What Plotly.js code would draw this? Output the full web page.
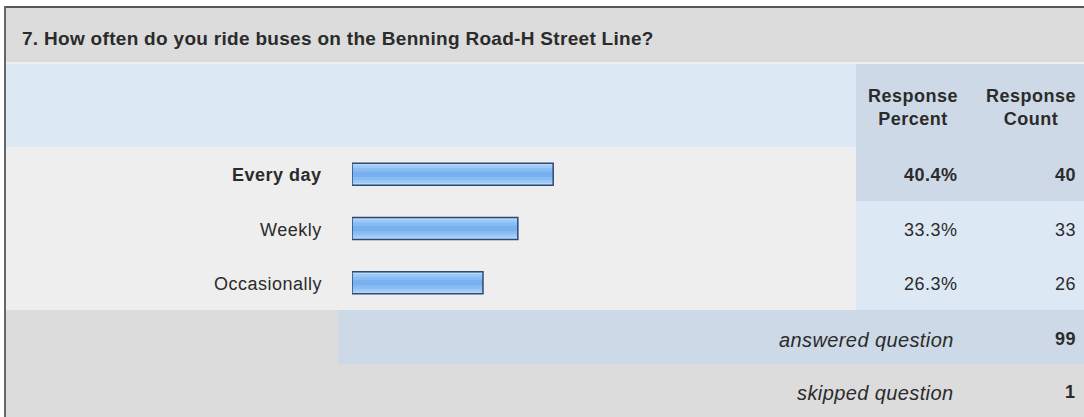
<!DOCTYPE html>
<html>
<head>
<meta charset="utf-8">
<script src="https://cdn.plot.ly/plotly-3.0.1.min.js"></script>
<style>
html,body{margin:0;padding:0;background:#fff;}
#chart{width:1084px;height:417px;}
</style>
</head>
<body>
<div id="chart"></div>
<script>
// ---- data ----
var questionTitle = "7. How often do you ride buses on the Benning Road-H Street Line?";
var categories = ["Every day", "Weekly", "Occasionally"];
var responsePercent = [40.4, 33.3, 26.3];
var responseCount = [40, 33, 26];
var answeredQuestion = 99;
var skippedQuestion = 1;
var headerPercent = ["Response", "Percent"];
var headerCount = ["Response", "Count"];
var answeredLabel = "answered question";
var skippedLabel = "skipped question";

// ---- layout helpers ----
var W = 1084, H = 417;
function px(x){ return x / W; }
function py(y){ return 1 - y / H; }
var FONT = "Liberation Sans, Arial, Helvetica, sans-serif";
var TXT = "#2b2b2b";
function sp(t, ls){ return '<span style="letter-spacing:' + ls + 'px">' + t + '</span>'; }

function rect(x0, y0, x1, y1, color){
  return {type:'rect', xref:'paper', yref:'paper', x0:px(x0), x1:px(x1), y0:py(y1), y1:py(y0),
          fillcolor:color, line:{width:0}, layer:'below'};
}

var shapes = [
  rect(6, 6, W, 8, '#555555'),          // top border
  rect(4, 6, 6, H, '#666666'),          // left border
  rect(6, 8, W, 62, '#dcdcdc'),         // title band
  rect(6, 62, W, 64, '#efefef'),        // separator
  rect(6, 64, 856, 147, '#dde8f5'),     // header left
  rect(856, 64, W, 147, '#cdd9e6'),     // header right
  rect(6, 147, 856, 310, '#eeeeee'),    // body left
  rect(856, 147, W, 201, '#cdd9e6'),    // first row right (highlighted)
  rect(856, 201, W, 310, '#dde8f5'),    // other rows right
  rect(6, 310, 338, 364, '#dcdcdc'),    // answered left
  rect(338, 310, W, 364, '#cdd9e6'),    // answered right
  rect(6, 364, W, H, '#dcdcdc')         // skipped
];

var maxIdx = responsePercent.indexOf(Math.max.apply(null, responsePercent));

function ann(x, y, text, anchor, size){
  return {xref:'paper', yref:'paper', x:px(x), y:py(y), xanchor:anchor, yanchor:'middle',
          text:text, showarrow:false, font:{family:FONT, size:size || 18, color:TXT}};
}

var annotations = [
  ann(20, 39, '<b>' + sp(questionTitle, 0.3) + '</b>', 'left', 19),
  ann(913, 108, '<b>' + sp(headerPercent[0], 0.5) + '<br>' + sp(headerPercent[1], 0.5) + '</b>', 'center'),
  ann(1031, 108, '<b>' + sp(headerCount[0], 0.5) + '<br>' + sp(headerCount[1], 0.5) + '</b>', 'center'),
  ann(956, 340, '<i>' + sp(answeredLabel, 0.4) + '</i>', 'right', 20),
  ann(1078, 339, '<b>' + sp(String(answeredQuestion), 0.5) + '</b>', 'right'),
  ann(956, 393, '<i>' + sp(skippedLabel, 0.4) + '</i>', 'right', 20),
  ann(1078, 392, '<b>' + sp(String(skippedQuestion), 0.5) + '</b>', 'right')
];

categories.forEach(function(c, i){
  var b = (i === maxIdx);
  function w(t){ t = sp(t, 0.5); return b ? '<b>' + t + '</b>' : t; }
  [[324, c], [960, responsePercent[i].toFixed(1) + '%'], [1078, String(responseCount[i])]].forEach(function(p){
    annotations.push({xref:'paper', yref:'y', x:px(p[0]), y:c, xanchor:'right', yanchor:'middle',
      yshift:-1, text:w(p[1]), showarrow:false, font:{family:FONT, size:18, color:TXT}});
  });
});

// gradient bar layers
var layers = [
  {w:0.405, c:'#aad1fa'},
  {w:0.33, c:'#9cc8f8'},
  {w:0.22, c:'#88bcf4'},
  {w:0.10, c:'#78b0f0'}
];
var traces = layers.map(function(L){
  return {type:'bar', orientation:'h', y:categories, x:responsePercent, width:L.w,
          marker:{color:L.c, line:{width:0}}, hoverinfo:'skip', showlegend:false};
});
// top highlight
traces.splice(1, 0, {type:'bar', orientation:'h', y:categories, x:responsePercent, width:0.36,
  marker:{color:'#c4e0fc', line:{width:0}}, offset:-0.18, hoverinfo:'skip', showlegend:false});
traces.push({type:'bar', orientation:'h', y:categories, x:responsePercent, width:0.405,
  marker:{color:'rgba(0,0,0,0)', line:{width:1.5, color:'#2d4a73'}}, hoverinfo:'skip', showlegend:false});

var layout = {
  width:W, height:H,
  margin:{l:0, r:0, t:0, b:0},
  paper_bgcolor:'#ffffff', plot_bgcolor:'rgba(0,0,0,0)',
  barmode:'overlay',
  showlegend:false,
  xaxis:{domain:[px(352), px(850)], range:[0, 100], showgrid:false, zeroline:false,
         showticklabels:false, ticks:'', fixedrange:true},
  yaxis:{domain:[py(310), py(147)], type:'category', range:[2.5, -0.5], showgrid:false,
         zeroline:false, showticklabels:false, ticks:'', fixedrange:true},
  shapes:shapes,
  annotations:annotations
};

Plotly.newPlot('chart', traces, layout, {displayModeBar:false, staticPlot:true});
</script>
</body>
</html>
